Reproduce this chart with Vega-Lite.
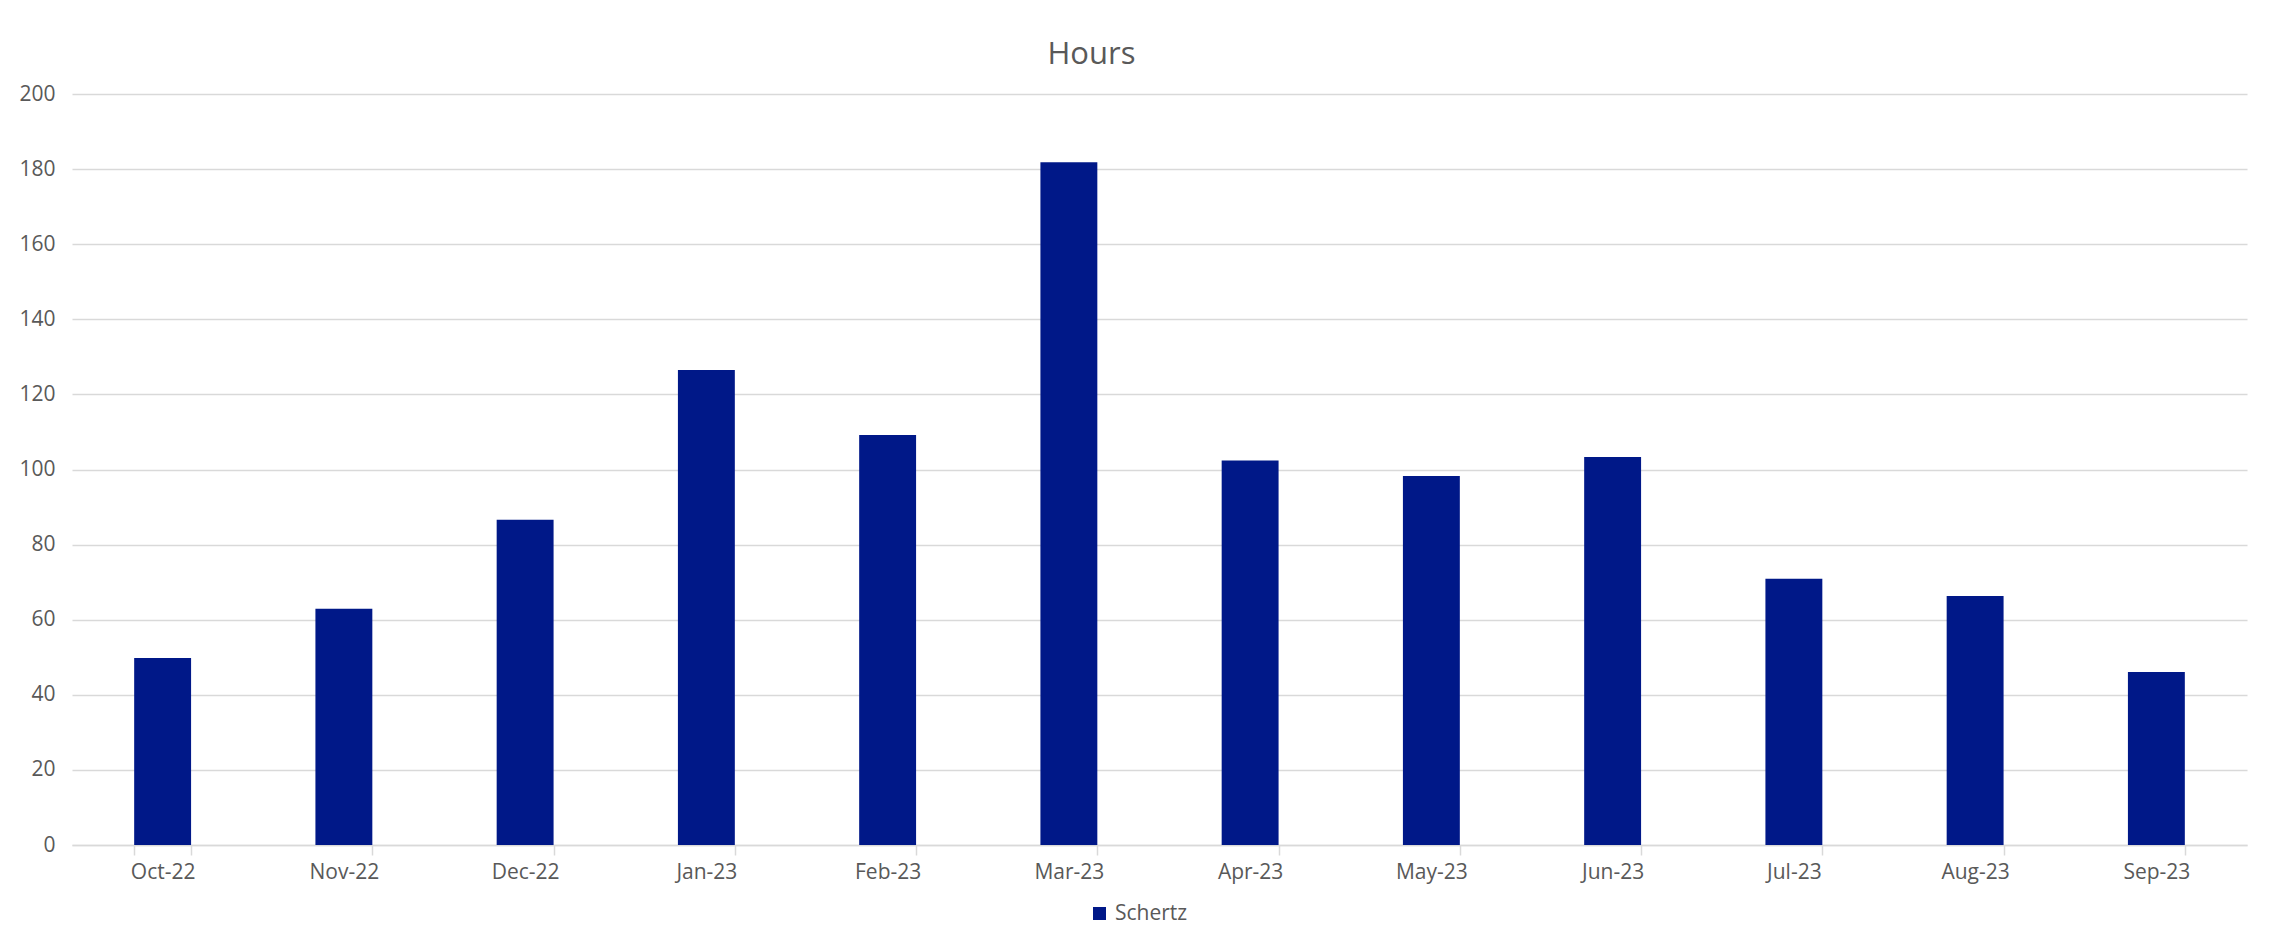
{
  "$schema": "https://vega.github.io/schema/vega-lite/v6.json",
  "width": 2175,
  "height": 751,
  "autosize": "none",
  "padding": {"left": 72, "top": 94, "right": 43, "bottom": 99},
  "background": "#ffffff",
  "title": {
    "text": "Hours",
    "fontSize": 31,
    "font": "Open Sans",
    "fontWeight": "normal",
    "color": "#595959",
    "anchor": "middle",
    "frame": "group",
    "baseline": "alphabetic",
    "offset": -12,
    "dx": -68
  },
  "data": {
    "values": [
      {"month": "Oct-22", "hours": 49.8, "site": "Schertz"},
      {"month": "Nov-22", "hours": 62.9, "site": "Schertz"},
      {"month": "Dec-22", "hours": 86.6, "site": "Schertz"},
      {"month": "Jan-23", "hours": 126.5, "site": "Schertz"},
      {"month": "Feb-23", "hours": 109.2, "site": "Schertz"},
      {"month": "Mar-23", "hours": 181.8, "site": "Schertz"},
      {"month": "Apr-23", "hours": 102.4, "site": "Schertz"},
      {"month": "May-23", "hours": 98.3, "site": "Schertz"},
      {"month": "Jun-23", "hours": 103.3, "site": "Schertz"},
      {"month": "Jul-23", "hours": 70.9, "site": "Schertz"},
      {"month": "Aug-23", "hours": 66.3, "site": "Schertz"},
      {"month": "Sep-23", "hours": 46.1, "site": "Schertz"}
    ]
  },
  "mark": {"type": "bar"},
  "encoding": {
    "x": {
      "field": "month",
      "type": "ordinal",
      "sort": null,
      "scale": {"paddingInner": 0.686, "paddingOuter": 0.343},
      "axis": {
        "title": null,
        "labelAngle": 0,
        "labelFont": "Open Sans",
        "labelFontSize": 21,
        "labelColor": "#595959",
        "labelPadding": 6,
        "domainColor": "#d9d9d9",
        "domainWidth": 1.5,
        "tickColor": "#d9d9d9",
        "tickWidth": 1.5,
        "tickSize": 10,
        "tickBand": "extent",
        "grid": false
      }
    },
    "y": {
      "field": "hours",
      "type": "quantitative",
      "scale": {"domain": [0, 200], "nice": false},
      "axis": {
        "title": null,
        "values": [0, 20, 40, 60, 80, 100, 120, 140, 160, 180, 200],
        "labelFont": "Open Sans",
        "labelFontSize": 21,
        "labelColor": "#595959",
        "labelPadding": 17,
        "ticks": false,
        "tickSize": 0,
        "domain": false,
        "grid": true,
        "gridColor": "#d9d9d9",
        "gridWidth": 1.4
      }
    },
    "color": {
      "field": "site",
      "type": "nominal",
      "scale": {"range": ["#001888"]},
      "legend": {
        "title": null,
        "orient": "none",
        "legendX": 1017,
        "legendY": 809,
        "symbolType": "square",
        "symbolSize": 169,
        "symbolStrokeWidth": 0,
        "labelFont": "Open Sans",
        "labelFontSize": 21,
        "labelColor": "#595959",
        "labelOffset": 5
      }
    }
  },
  "config": {
    "view": {"stroke": null},
    "axis": {"labelFontWeight": "normal"}
  }
}
